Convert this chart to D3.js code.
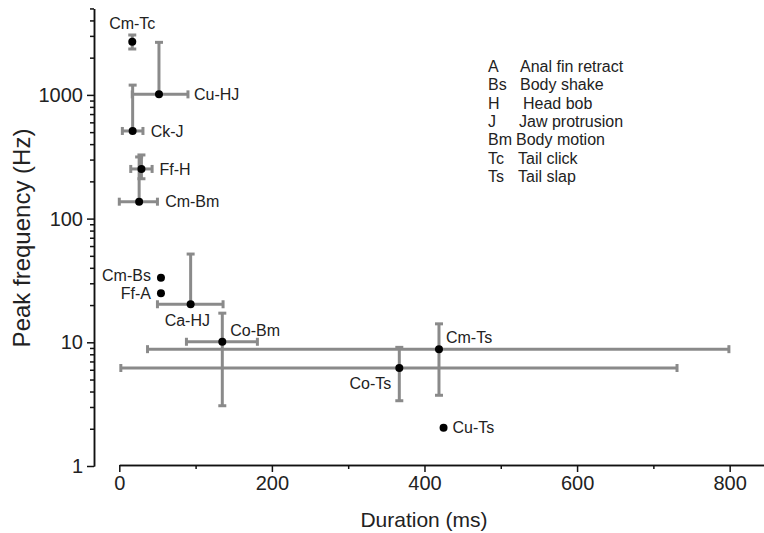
<!DOCTYPE html>
<html lang="en">
<head>
  <meta charset="UTF-8"/>
  <title>Peak frequency vs duration</title>
  <script src="https://d3js.org/d3.v7.min.js"></script>
  <style>
    body { margin: 0; background: #fff; }
    svg { font-family: "Liberation Sans", Arial, Helvetica, sans-serif; }
    .axis path, .axis line { stroke: #111; stroke-width: 1.5; }
    .axis text { fill: #222; font-size: 20px; }
    .errbar { stroke: #8a8a8a; stroke-width: 3; fill: none; }
    .lbl { font-size: 16px; fill: #222; }
    .legend text { font-size: 16px; fill: #222; }
    .title { fill: #222; }
  </style>
</head>
<body>
<svg width="764" height="533"></svg>
<script>
  // sound type (species-behaviour)
  const labels   = ['Cm-Tc', 'Cu-HJ', 'Ck-J', 'Ff-H', 'Cm-Bm', 'Cm-Bs', 'Ff-A', 'Ca-HJ', 'Co-Bm', 'Cm-Ts', 'Co-Ts', 'Cu-Ts'];
  const duration = [17,   52,   17.5, 29,  26,  54.6, 54.6, 93.5, 135, 419, 367, 425];
  const durLo    = [null, 17,   4,    15,  0,   null, null, 50,   88,  37,  2,   null];
  const durHi    = [null, 90,   31,   43,  50,  null, null, 136,  181, 799, 731, null];
  const freq     = [2690, 1010, 511,  252, 137, 33.3, 24.9, 20.3, 10.1, 8.8, 6.2, 2.04];
  const freqLo   = [2350, null, null, 210, null, null, null, null, 3.07, 3.73, 3.37, null];
  const freqHi   = [3050, 2660, 1200, 327, 315, null, null, 51.7, 17.2, 14.1, 9.1, null];

  const xTicks = [0, 200, 400, 600, 800];
  const xMinor = [100, 300, 500, 700];
  const yTicks = [1, 10, 100, 1000];

  const legendCodes = ['A', 'Bs', 'H', 'J', 'Bm', 'Tc', 'Ts'];
  const legendNames = ['Anal fin retract', 'Body shake', 'Head bob', 'Jaw protrusion', 'Body motion', 'Tail click', 'Tail slap'];

  // label placement next to each point: [dx, dy, anchor]
  const labelPos = {
    'Cm-Tc': [0, -18, 'middle'],
    'Cu-HJ': [35, 0, 'start'],
    'Ck-J':  [18, 0, 'start'],
    'Ff-H':  [18, 0, 'start'],
    'Cm-Bm': [26, 0, 'start'],
    'Cm-Bs': [-10, -2, 'end'],
    'Ff-A':  [-10, 0, 'end'],
    'Ca-HJ': [-26, 16, 'start'],
    'Co-Bm': [8, -11, 'start'],
    'Cm-Ts': [7, -12, 'start'],
    'Co-Ts': [-8, 15, 'end'],
    'Cu-Ts': [9, 0, 'start']
  };
  const legendNameX = [520, 520, 523, 519, 516, 518, 518];

  const svg = d3.select('svg');

  const x = d3.scaleLinear().domain([0, 845]).range([119.3, 764]);
  const y = d3.scaleLog().domain([1, 5000]).range([466, 466 - 123.7 * Math.log10(5000)]);

  // y axis
  const yMinor = [];
  for (let p = 1; p <= 1000; p *= 10)
    for (let k = 2; k <= 9; k++) if (k * p <= 5000) yMinor.push(k * p);

  svg.append('g').attr('class', 'axis')
    .attr('transform', 'translate(94,0)')
    .call(d3.axisLeft(y).tickValues(yMinor).tickSize(4).tickSizeOuter(0).tickFormat(''));
  svg.append('g').attr('class', 'axis')
    .attr('transform', 'translate(94,0)')
    .call(d3.axisLeft(y).tickValues(yTicks).tickSize(7).tickSizeOuter(0).tickPadding(4).tickFormat(d3.format('d')));

  // x axis
  svg.append('g').attr('class', 'axis')
    .attr('transform', 'translate(0,465)')
    .call(d3.axisBottom(x).tickValues(xMinor).tickSize(4).tickSizeOuter(0).tickFormat(''));
  svg.append('g').attr('class', 'axis')
    .attr('transform', 'translate(0,465)')
    .call(d3.axisBottom(x).tickValues(xTicks).tickSize(7).tickSizeOuter(0).tickPadding(4));

  const pts = labels.map((l, i) => ({
    label: l, d: duration[i], f: freq[i],
    dLo: durLo[i], dHi: durHi[i], fLo: freqLo[i], fHi: freqHi[i]
  }));

  const cap = 4;
  const eb = svg.append('g').attr('class', 'errbar');
  pts.forEach(p => {
    const cy = y(p.f), cx = x(p.d);
    if (p.dLo !== null) {
      const x1 = x(p.dLo), x2 = x(p.dHi);
      eb.append('line').attr('x1', x1).attr('x2', x2).attr('y1', cy).attr('y2', cy);
      eb.append('line').attr('x1', x1).attr('x2', x1).attr('y1', cy - cap).attr('y2', cy + cap);
      eb.append('line').attr('x1', x2).attr('x2', x2).attr('y1', cy - cap).attr('y2', cy + cap);
    }
    if (p.fHi !== null) {
      const y1 = y(p.fHi), y2 = p.fLo !== null ? y(p.fLo) : cy;
      eb.append('line').attr('x1', cx).attr('x2', cx).attr('y1', y1).attr('y2', y2);
      eb.append('line').attr('x1', cx - cap).attr('x2', cx + cap).attr('y1', y1).attr('y2', y1);
      if (p.fLo !== null)
        eb.append('line').attr('x1', cx - cap).attr('x2', cx + cap).attr('y1', y2).attr('y2', y2);
    }
  });

  svg.append('g').selectAll('circle')
    .data(pts).enter().append('circle')
    .attr('cx', p => x(p.d))
    .attr('cy', p => y(p.f))
    .attr('r', 4)
    .attr('fill', '#000');

  svg.append('g').selectAll('text')
    .data(pts).enter().append('text')
    .attr('class', 'lbl')
    .attr('x', p => x(p.d) + labelPos[p.label][0])
    .attr('y', p => y(p.f) + labelPos[p.label][1])
    .attr('dy', '0.35em')
    .attr('text-anchor', p => labelPos[p.label][2])
    .text(p => p.label);

  // legend
  const lg = svg.append('g').attr('class', 'legend');
  legendCodes.forEach((c, i) => {
    const ly = 66 + i * 18.45;
    lg.append('text').attr('x', 488).attr('y', ly).attr('dy', '0.35em').text(c);
    lg.append('text').attr('x', legendNameX[i]).attr('y', ly).attr('dy', '0.35em').text(legendNames[i]);
  });

  // axis titles
  svg.append('text')
    .attr('class', 'title')
    .attr('transform', 'translate(22,238) rotate(-90)')
    .attr('text-anchor', 'middle')
    .attr('dy', '0.35em')
    .style('font-size', '24px')
    .text('Peak frequency (Hz)');

  svg.append('text')
    .attr('class', 'title')
    .attr('x', 424)
    .attr('y', 520)
    .attr('text-anchor', 'middle')
    .attr('dy', '0.35em')
    .style('font-size', '21px')
    .text('Duration (ms)');
</script>
</body>
</html>
